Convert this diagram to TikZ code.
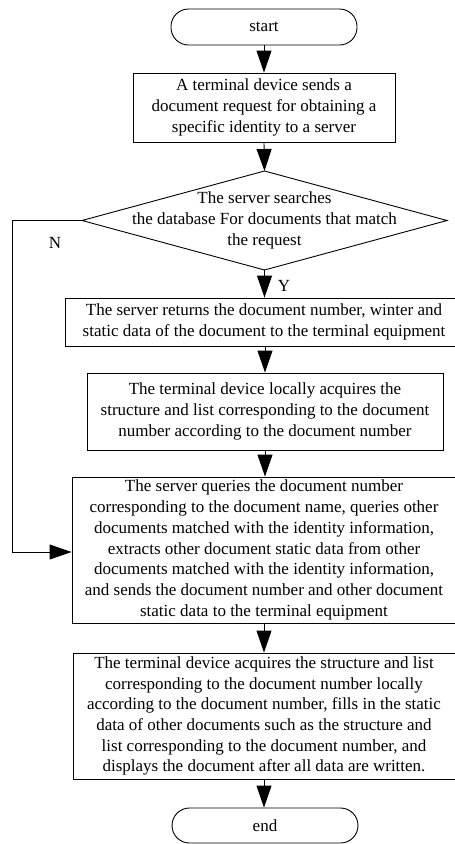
\documentclass[tikz,border=0pt]{standalone}
\usepackage{fontspec}
\setmainfont{Liberation Serif}
\usetikzlibrary{arrows.meta}
\begin{document}
\begin{tikzpicture}[x=1pt,y=-1pt,
  every node/.style={font=\fontsize{17}{20.7}\selectfont},
  box/.style={draw, line width=0.9pt, align=center, inner sep=0pt},
  term/.style={box, rounded corners=17.5pt},
  arr/.style={line width=0.9pt, -{Triangle[width=15pt,length=22pt]}},
  conn/.style={line width=0.9pt}
]
\useasboundingbox (0,0) rectangle (455,844);
\clip (0,0) rectangle (455,844);
\node[term, minimum width=186pt, minimum height=36pt] (start) at (264,27) {start};
\node[box, minimum width=262pt, minimum height=69pt] (b1) at (264,107.5)
  {A terminal device sends a\\document request for obtaining a\\specific identity to a server};
\node[align=center, inner sep=0pt] (dec) at (264.5,220.5)
  {The server searches\\the database For documents that match\\the request};
\coordinate (dt) at (264.5,171);
\coordinate (db) at (264.5,270);
\coordinate (dl) at (82,220.5);
\coordinate (dr) at (447,220.5);
\draw[conn] (dt) -- (dr) -- (db) -- (dl) -- cycle;
\node[box, minimum width=398pt, minimum height=48pt] (b2) at (264,322)
  {The server returns the document number, winter and\\static data of the document to the terminal equipment};
\node[box, minimum width=356pt, minimum height=77pt] (b3) at (265,411.5)
  {The terminal device locally acquires the\\structure and list corresponding to the document\\number according to the document number};
\node[box, minimum width=384pt, minimum height=146pt] (b4) at (264,550)
  {The server queries the document number\\corresponding to the document name, queries other\\documents matched with the identity information,\\extracts other document static data from other\\documents matched with the identity information,\\and sends the document number and other document\\static data to the terminal equipment};
\node[box, minimum width=382pt, minimum height=126pt] (b5) at (264,716)
  {The terminal device acquires the structure and list\\corresponding to the document number locally\\according to the document number, fills in the static\\data of other documents such as the structure and\\list corresponding to the document number, and\\displays the document after all data are written.};
\node[term, minimum width=186pt, minimum height=35pt] (end) at (265,825.5) {end};
\node (nl) at (55,243) {N};
\node (yl) at (284,286) {Y};
\coordinate (nc1) at (12,220.5);
\coordinate (nc2) at (12,552);
\draw[arr] (start) -- (b1);
\draw[arr] (b1.south) -- (dt);
\draw[arr] (db) -- (b2.north -| db);
\draw[arr] (b2) -- (b3.north |- b2.south) -- (b3.north);
\draw[arr] (b3) -- (b4.north -| b3);
\draw[arr] (b4) -- (b5);
\draw[arr] (b5) -- (end.north -| b5);
\draw[arr] (dl) -- (nc1) -- (nc2) -- (b4.west |- nc2);
\end{tikzpicture}
\end{document}
